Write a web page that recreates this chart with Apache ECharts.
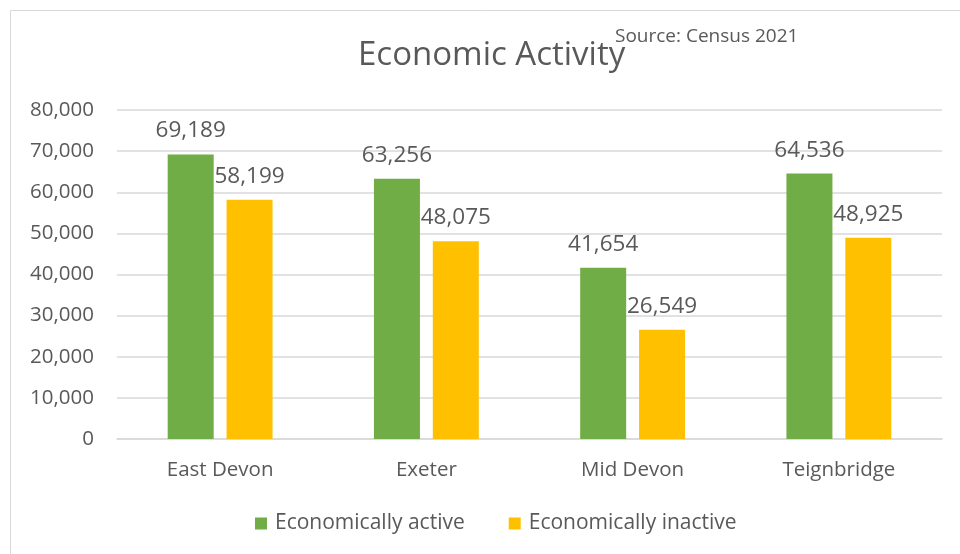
<!DOCTYPE html>
<html>
<head>
<meta charset="utf-8">
<script src="https://cdn.jsdelivr.net/npm/echarts@6/dist/echarts.min.js"></script>
<style>
  html, body { margin: 0; padding: 0; background: #ffffff; }
  #chart { width: 960px; height: 554px; }
</style>
</head>
<body>
<div id="chart"></div>
<script>
// Census 2021 economic activity by district
const districts = ['East Devon', 'Exeter', 'Mid Devon', 'Teignbridge'];
const economicallyActive = [69189, 63256, 41654, 64536];
const economicallyInactive = [58199, 48075, 26549, 48925];
const seriesNames = ['Economically active', 'Economically inactive'];

const FONT = '"Open Sans", sans-serif';
const TEXT = '#595959';

const chart = echarts.init(document.getElementById('chart'), null, { renderer: 'canvas' });

const fmt = v => v.toLocaleString('en-GB');

chart.setOption({
  animation: false,
  backgroundColor: '#ffffff',
  textStyle: { fontFamily: FONT },
  graphic: [
    {
      type: 'rect',
      shape: { x: 10.5, y: 10.5, width: 960, height: 560 },
      style: { fill: 'none', stroke: '#d9d9d9', lineWidth: 1 },
      silent: true
    },
    {
      type: 'text',
      left: 358,
      top: 39,
      style: { text: 'Economic Activity', fontSize: 33, fill: TEXT, fontFamily: FONT }
    },
    {
      type: 'text',
      left: 615,
      top: 27,
      style: { text: 'Source: Census 2021', fontSize: 19, fill: TEXT, fontFamily: FONT }
    }
  ],
  legend: {
    bottom: 15,
    left: 250,
    itemWidth: 12,
    itemHeight: 12,
    itemGap: 44,
    icon: 'rect',
    textStyle: { fontSize: 21, color: TEXT, fontFamily: FONT, padding: [0, 0, 0, 3] },
    data: seriesNames
  },
  grid: { left: 117, right: 18, top: 110, bottom: 115 },
  xAxis: {
    type: 'category',
    data: districts,
    axisTick: { show: false },
    axisLine: { lineStyle: { color: '#d9d9d9', width: 1.5 } },
    axisLabel: { fontSize: 20.5, color: TEXT, margin: 21, fontFamily: FONT }
  },
  yAxis: {
    type: 'value',
    min: 0,
    max: 80000,
    interval: 10000,
    axisLine: { show: false },
    axisTick: { show: false },
    splitLine: { lineStyle: { color: '#d9d9d9', width: 1.5 } },
    axisLabel: { fontSize: 20.5, color: TEXT, margin: 23, fontFamily: FONT, formatter: fmt }
  },
  series: [
    {
      name: seriesNames[0],
      type: 'bar',
      data: economicallyActive,
      barWidth: 46,
      barGap: '28%',
      itemStyle: { color: '#70ad47' },
      label: { show: true, position: 'top', distance: 12, fontSize: 22.5, color: TEXT, fontFamily: FONT, formatter: p => fmt(p.value) }
    },
    {
      name: seriesNames[1],
      type: 'bar',
      data: economicallyInactive,
      barWidth: 46,
      itemStyle: { color: '#ffc000' },
      label: { show: true, position: 'top', distance: 12, fontSize: 22.5, color: TEXT, fontFamily: FONT, formatter: p => fmt(p.value) }
    }
  ]
});
</script>
</body>
</html>
